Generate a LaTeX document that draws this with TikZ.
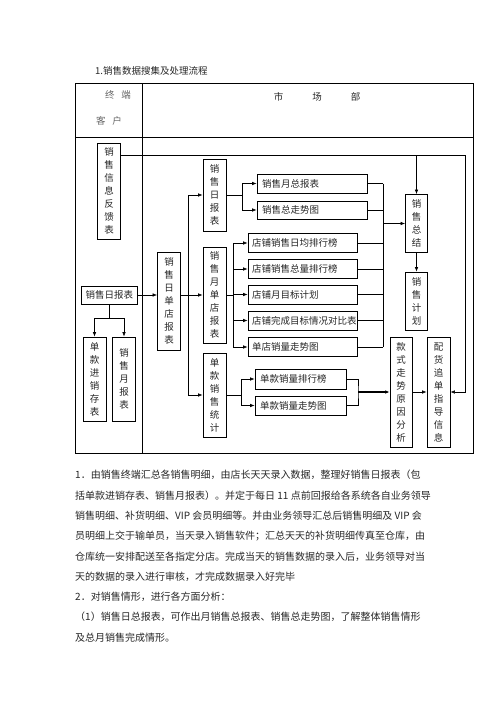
\documentclass[tikz,border=0pt]{standalone}
\usepackage{fontspec}
\newfontfamily\cjk{Noto Sans CJK SC}
\usetikzlibrary{arrows.meta}

\begin{document}
\begin{tikzpicture}[x=1pt,y=-1pt,
  every node/.style={font=\cjk\fontsize{9.5}{13}\selectfont,text=black!85},
  cell/.style={draw=black,line width=.7pt,inner sep=0pt},
  vcell/.style={cell,align=center,minimum width=23pt,minimum height=#1},
  hcell/.style={cell,align=left,inner xsep=5pt,text width=#1,minimum height=19pt},
  link/.style={line width=.6pt},
  arr/.style={link,-{Latex[length=4.5pt,width=3.5pt]}},
  para/.style={font=\cjk\fontsize{10}{12}\selectfont,anchor=base west,inner sep=0pt}]
  \useasboundingbox (0,0) rectangle (496,702);
  % title and table frame
  \node[anchor=base west,inner sep=0pt] (title) at (95,74.5) {1.销售数据搜集及处理流程};
  \draw[line width=.8pt] (75,83) rectangle (473,453);
  \draw[line width=.8pt] (142,83) -- (142,453) (75,137) -- (473,137);
  \node[text=black!60] (zd) at (118,95) {终\hspace{7pt}端};
  \node[text=black!60] (kh) at (109,121) {客\hspace{7pt}户};
  \node (scb) at (317,97) {市\hspace{29pt}场\hspace{29pt}部};
  % terminal / customer column
  \node[vcell=96pt] (fk) at (109,191) {销\\售\\信\\息\\反\\馈\\表};
  \node[hcell=47pt,inner xsep=4.5pt,minimum height=18pt] (rbl) at (109,295) {销售日报表};
  \node[vcell=84pt] (jxc) at (94.5,379) {单\\款\\进\\销\\存\\表};
  \node[vcell=84pt] (ybl) at (124,379) {销\\售\\月\\报\\表};
  % market department
  \node[vcell=98pt] (ddr) at (169,301) {销\\售\\日\\单\\店\\报\\表};
  \node[vcell=72pt] (rb) at (214.5,195) {销\\售\\日\\报\\表};
  \node[vcell=96pt] (ddy) at (214.5,295) {销\\售\\月\\单\\店\\报\\表};
  \node[vcell=84pt] (dk) at (214.5,395) {单\\款\\销\\售\\统\\计};
  \node[hcell=100pt] (yzb) at (312,183.5) {销售月总报表};
  \node[hcell=100pt,minimum height=18pt] (zzs) at (312,210) {销售总走势图};
  \foreach \n/\y/\t in {dp1/243/店铺销售日均排行榜,dp2/269/店铺销售总量排行榜,dp3/294.5/店铺月目标计划,dp4/320.5/店铺完成目标情况对比表,dp5/347/单店销量走势图}
    \node[hcell=101pt,inner xsep=4pt] (\n) at (302.5,\y) {\t};
  \node[hcell=81pt,minimum height=20pt] (kp1) at (300.5,379) {单款销量排行榜};
  \node[hcell=81pt] (kp2) at (300.5,405.5) {单款销量走势图};
  \node[vcell=58pt,minimum width=22pt] (zj) at (416.5,223.5) {销\\售\\总\\结};
  \node[vcell=58pt,minimum width=22pt] (jh) at (416.5,301) {销\\售\\计\\划};
  \node[vcell=110pt,minimum width=22pt] (ks) at (401,392) {款\\式\\走\\势\\原\\因\\分\\析};
  \node[vcell=110pt] (pz) at (438.5,392) {配\\货\\追\\单\\指\\导\\信\\息};
  % feedback loop along the top
  \coordinate (loop) at (465,155);
  \draw[arr] (fk.east |- loop) -- (loop) |- (pz.east);
  \draw[arr] (zj.north |- loop) -- (zj.north);
  % daily report branches
  \draw[arr] (rbl.east) -- (rbl.east -| ddr.west);
  \draw[link] (rbl.south) -- ++(0,14) coordinate (s1);
  \draw[arr] (s1) -| (jxc.north);
  \draw[arr] (s1) -| (ybl.north);
  \draw[link] (ddr.east |- rbl.east) -- ++(7,0) coordinate (b1);
  \draw[arr] (b1) |- (rb.west);
  \draw[arr] (b1) -- (b1 -| ddy.west);
  \draw[arr] (b1) |- (dk.west);
  \draw[link] (rb.east) -- ++(16,0) coordinate (b2);
  \draw[arr] (b2) |- (yzb.west);
  \draw[arr] (b2) |- (zzs.west);
  \draw[link] (ddy.east) -- ++(7,0) coordinate (b3);
  \foreach \n in {dp1,dp2,dp3,dp4,dp5} \draw[arr] (b3) |- (\n.west);
  \draw[link] (dk.east) -- ++(15,0) coordinate (b4);
  \draw[arr] (b4) |- (kp1.west);
  \draw[arr] (b4) |- (kp2.west);
  % merge into summary and plan
  \coordinate (m1) at (383,223.5);
  \foreach \n in {yzb,zzs,dp1,dp2,dp3,dp4,dp5} \draw[link] (\n.east) -- (\n.east -| m1);
  \draw[link] (m1 |- yzb.east) -- (m1 |- dp5.east);
  \draw[arr] (m1) -- (zj.west);
  \draw[arr] (zj) -- (jh);
  % single style analysis
  \coordinate (m2) at (358,392);
  \draw[link] (kp1.east) -| (m2) |- (kp2.east);
  \draw[arr,line width=1.1pt] (m2) -- (ks.west);
  \draw[arr] (ks) -- (pz);
  % notes below the chart
  \foreach \txt [count=\k from 0] in {
    {1．由销售终端汇总各销售明细，由店长天天录入数据，整理好销售日报表（包},
    {括单款进销存表、销售月报表）。并定于每日 11 点前回报给各系统各自业务领导},
    {销售明细、补货明细、VIP 会员明细等。并由业务领导汇总后销售明细及 VIP 会},
    {员明细上交于输单员，当天录入销售软件；汇总天天的补货明细传真至仓库，由},
    {仓库统一安排配送至各指定分店。完成当天的销售数据的录入后，业务领导对当},
    {天的数据的录入进行审核，才完成数据录入好完毕},
    {2．对销售情形，进行各方面分析：},
    {（1）销售日总报表，可作出月销售总报表、销售总走势图，了解整体销售情形},
    {及总月销售完成情形。}}
    \node[para] (p\k) at (75,{478.8+20.3*\k}) {\txt};
\end{tikzpicture}
\end{document}
